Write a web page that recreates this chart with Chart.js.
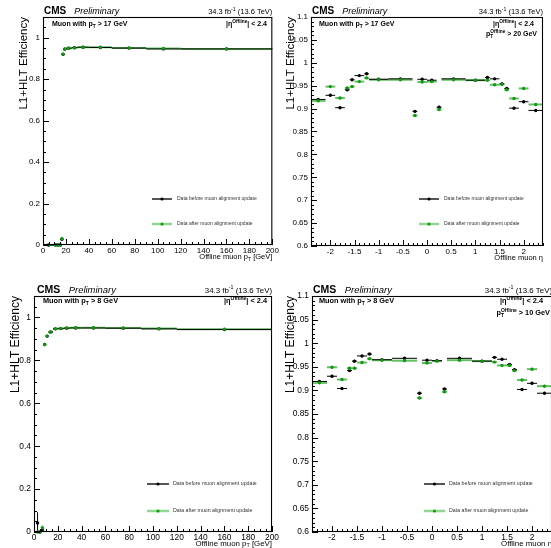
<!DOCTYPE html>
<html>
<head>
<meta charset="utf-8">
<script src="https://cdn.jsdelivr.net/npm/chart.js@4/dist/chart.umd.min.js"></script>
<style>
  html, body { margin: 0; padding: 0; background: #fff; }
  body { position: relative; width: 551px; height: 548px; overflow: hidden; }
  canvas { position: absolute; }
</style>
</head>
<body>
<canvas id="tl"></canvas>
<canvas id="tr"></canvas>
<canvas id="bl"></canvas>
<canvas id="br"></canvas>
<script>
'use strict';

var FONT = '"Liberation Sans", Arial, Helvetica, sans-serif';

// ---- data: offline pT, muons with pT > 17 GeV (top left)
var ptEdges17 = [0, 10, 12, 14, 16, 17, 18, 20, 25, 30, 40, 60, 90, 120, 200];
var effBefore17 = [0, 0, 0, 0, 0.028, 0.920, 0.945, 0.949, 0.952, 0.954, 0.953, 0.950, 0.946, 0.946];
var effAfter17  = [0, 0, 0, 0, 0.030, 0.921, 0.946, 0.949, 0.952, 0.954, 0.954, 0.951, 0.948, 0.946];
var errBefore17 = [0, 0, 0, 0, 0.008, 0.004, 0.002, 0.002, 0.002, 0.001, 0.001, 0.002, 0.003, 0.003];
var errAfter17  = [0, 0, 0, 0, 0.008, 0.004, 0.002, 0.002, 0.002, 0.001, 0.001, 0.002, 0.003, 0.003];

// ---- data: offline pT, muons with pT > 8 GeV (bottom left)
var ptEdges8 = [2, 4, 6, 8, 10, 12, 16, 20, 25, 30, 40, 60, 90, 120, 200];
var effBefore8 = [0.042, 0, 0.010, 0.874, 0.913, 0.932, 0.947, 0.948, 0.950, 0.951, 0.951, 0.950, 0.947, 0.944];
var effAfter8  = [0, 0, 0.020, 0.874, 0.913, 0.932, 0.947, 0.949, 0.951, 0.952, 0.952, 0.951, 0.948, 0.945];
var errBefore8 = [0.05, 0, 0.010, 0.004, 0.003, 0.002, 0.002, 0.002, 0.002, 0.001, 0.001, 0.002, 0.003, 0.003];
var errAfter8  = [0, 0, 0.010, 0.004, 0.003, 0.002, 0.002, 0.002, 0.002, 0.001, 0.001, 0.002, 0.003, 0.003];

// ---- data: offline eta (both right panels share the binning)
var etaEdges = [-2.4, -2.1, -1.9, -1.7, -1.6, -1.5, -1.3, -1.2, -0.8, -0.3, -0.2, 0,
                0.2, 0.3, 0.8, 1.2, 1.3, 1.5, 1.6, 1.7, 1.9, 2.1, 2.4];
var effBefore20 = [0.920, 0.929, 0.902, 0.941, 0.963, 0.972, 0.976, 0.964, 0.965, 0.894, 0.964,
                   0.962, 0.903, 0.965, 0.962, 0.968, 0.965, 0.954, 0.944, 0.901, 0.915, 0.896];
var effAfter20  = [0.917, 0.948, 0.923, 0.945, 0.948, 0.959, 0.967, 0.963, 0.963, 0.885, 0.958,
                   0.959, 0.898, 0.963, 0.962, 0.962, 0.952, 0.953, 0.941, 0.922, 0.944, 0.909];
var effBefore10 = [0.919, 0.930, 0.904, 0.942, 0.962, 0.973, 0.977, 0.965, 0.968, 0.894, 0.964,
                   0.963, 0.903, 0.968, 0.962, 0.970, 0.966, 0.955, 0.944, 0.902, 0.915, 0.894];
var effAfter10  = [0.916, 0.949, 0.923, 0.947, 0.947, 0.959, 0.967, 0.964, 0.963, 0.884, 0.958,
                   0.962, 0.897, 0.964, 0.962, 0.960, 0.953, 0.953, 0.942, 0.922, 0.945, 0.909];
var etaErr = [0.003, 0.003, 0.003, 0.003, 0.003, 0.002, 0.002, 0.001, 0.001, 0.003, 0.002,
              0.002, 0.003, 0.001, 0.001, 0.002, 0.002, 0.003, 0.003, 0.003, 0.003, 0.003];

// ---- text pieces (m: sub / sup / subsup)
function R(t, m, u) { return { t: t, m: m || '', u: u }; }
var lumiText = [R('34.3 fb'), R('-1', 'sup'), R(' (13.6 TeV)')];
var etaCut = [R('|\u03b7'), R('Offline', 'sup'), R('| < 2.4')];
var ptTitle = [R('Offline muon p'), R('T', 'sub'), R(' [GeV]')];
var etaTitle = [R('Offline muon \u03b7')];
var legendText = ['Data before muon alignment update', 'Data after muon alignment update'];

var panels = [
  {
    id: 'tl', left: 0, top: 0, w: 280, h: 275, s: 1,
    area: { l: 43, r: 277, t: 17, b: 245 },
    xr: { min: 0, max: 200, step: 20, minor: 5 }, yr: { min: 0, max: 1.1, step: 0.2, minor: 0.05 },
    edges: ptEdges17, before: effBefore17, after: effAfter17, errB: errBefore17, errA: errAfter17,
    cut: [R('Muon with p'), R('T', 'sub'), R(' > 17 GeV')], cutX: 52, cutY: 26, etaR: 267,
    extra: null, cms: { x: 44, y: 14 }, yTitleX: 27, xTitle: ptTitle, xTitleY: 259,
    leg: { x1: 152, x2: 172, tx: 177, y1: 199, y2: 224 }
  },
  {
    id: 'tr', left: 276, top: 0, w: 280, h: 275, s: 1,
    area: { l: 35, r: 267, t: 17, b: 246 },
    xr: { min: -2.4, max: 2.4, step: 0.5, minor: 0.1 }, yr: { min: 0.6, max: 1.1, step: 0.05, minor: 0.01 },
    edges: etaEdges, before: effBefore20, after: effAfter20, errB: etaErr, errA: etaErr,
    cut: [R('Muon with p'), R('T', 'sub'), R(' > 17 GeV')], cutX: 43, cutY: 26, etaR: 258,
    extra: { parts: [R('p'), R('T', 'subsup', 'Offline'), R(' > 20 GeV')], r: 261, y: 36 },
    cms: { x: 36, y: 14 }, yTitleX: 18, xTitle: etaTitle, xTitleY: 260,
    leg: { x1: 143, x2: 163, tx: 168, y1: 199, y2: 224 }
  },
  {
    id: 'bl', left: 0, top: 275, w: 280, h: 273, s: 1.05,
    area: { l: 34, r: 276, t: 21, b: 257 },
    xr: { min: 0, max: 200, step: 20, minor: 5 }, yr: { min: 0, max: 1.1, step: 0.2, minor: 0.05 },
    edges: ptEdges8, before: effBefore8, after: effAfter8, errB: errBefore8, errA: errAfter8,
    cut: [R('Muon with p'), R('T', 'sub'), R(' > 8 GeV')], cutX: 43, cutY: 28, etaR: 267,
    extra: null, cms: { x: 37, y: 17.5 }, yTitleX: 19, xTitle: ptTitle, xTitleY: 270.5,
    leg: { x1: 147, x2: 169, tx: 173, y1: 209, y2: 236 }
  },
  {
    id: 'br', left: 276, top: 275, w: 280, h: 273, s: 1.05,
    area: { l: 36, r: 276, t: 21, b: 257 },
    xr: { min: -2.4, max: 2.4, step: 0.5, minor: 0.1 }, yr: { min: 0.6, max: 1.1, step: 0.05, minor: 0.01 },
    edges: etaEdges, before: effBefore10, after: effAfter10, errB: etaErr, errA: etaErr,
    cut: [R('Muon with p'), R('T', 'sub'), R(' > 8 GeV')], cutX: 43, cutY: 28, etaR: 267,
    extra: { parts: [R('p'), R('T', 'subsup', 'Offline'), R(' > 10 GeV')], r: 274, y: 40 },
    cms: { x: 37, y: 17.5 }, yTitleX: 18, xTitle: etaTitle, xTitleY: 270.5,
    leg: { x1: 148, x2: 169, tx: 173, y1: 209, y2: 236 }
  }
];

var BLACK = '#000000';
var GREEN = '#139a13';
var GREEN_BAR = 'rgba(70, 180, 70, 0.85)';

function onStep(v, step) {
  var k = v / step;
  return Math.abs(k - Math.round(k)) < 1e-6;
}

function fmt(v) { return String(Math.round(v * 1000) / 1000); }

// rich text with sub / superscripts
function drawRich(ctx, parts, x, y, size, style, align) {
  var small = size * 0.68;
  function font(sz) { return style + ' ' + sz + 'px ' + FONT; }
  var widths = parts.map(function (p) {
    if (p.m === 'subsup') {
      ctx.font = font(small);
      return Math.max(ctx.measureText(p.t).width, ctx.measureText(p.u).width);
    }
    ctx.font = font(p.m ? small : size);
    return ctx.measureText(p.t).width;
  });
  var total = widths.reduce(function (a, b) { return a + b; }, 0);
  var cx = align === 'right' ? x - total : x;
  ctx.textAlign = 'left';
  ctx.textBaseline = 'alphabetic';
  parts.forEach(function (p, i) {
    if (!p.m) {
      ctx.font = font(size);
      ctx.fillText(p.t, cx, y);
    } else {
      ctx.font = font(small);
      if (p.m === 'sub') ctx.fillText(p.t, cx, y + size * 0.25);
      if (p.m === 'sup') ctx.fillText(p.t, cx, y - size * 0.42);
      if (p.m === 'subsup') {
        ctx.fillText(p.t, cx, y + size * 0.3);
        ctx.fillText(p.u, cx, y - size * 0.45);
      }
    }
    cx += widths[i];
  });
  return total;
}

// horizontal bin bars + vertical errors, frame, inward ticks, texts, legend
var rootStyle = {
  id: 'rootStyle',
  beforeDatasetsDraw: function (chart) {
    var ctx = chart.ctx, xs = chart.scales.x, ys = chart.scales.y;
    ctx.save();
    chart.data.datasets.slice().reverse().forEach(function (ds) {
      ctx.strokeStyle = ds.barColor;
      ctx.lineWidth = ds.barWidth;
      ds.data.forEach(function (pt, i) {
        var y = ys.getPixelForValue(pt.y);
        ctx.beginPath();
        ctx.moveTo(xs.getPixelForValue(ds.lo[i]), y);
        ctx.lineTo(xs.getPixelForValue(ds.hi[i]), y);
        ctx.stroke();
        if (ds.err[i] > 0) {
          var x = xs.getPixelForValue(pt.x);
          ctx.lineWidth = 1;
          ctx.beginPath();
          ctx.moveTo(x, ys.getPixelForValue(Math.max(ys.min, pt.y - ds.err[i])));
          ctx.lineTo(x, ys.getPixelForValue(pt.y + ds.err[i]));
          ctx.stroke();
          ctx.lineWidth = ds.barWidth;
        }
      });
    });
    ctx.restore();
  },
  afterDraw: function (chart, args, o) {
    var p = o.panel, ctx = chart.ctx, a = chart.chartArea;
    var xs = chart.scales.x, ys = chart.scales.y, s = p.s;
    ctx.save();
    ctx.strokeStyle = '#000';
    ctx.fillStyle = '#000';
    ctx.lineWidth = 1.1;
    ctx.strokeRect(a.left + 0.5, a.top + 0.5, a.right - a.left - 1, a.bottom - a.top - 1);

    // ticks pointing into the frame
    ctx.lineWidth = 1;
    var v, px, len;
    for (v = Math.ceil(p.xr.min / p.xr.minor - 1e-6) * p.xr.minor; v <= p.xr.max + 1e-9; v += p.xr.minor) {
      px = Math.round(xs.getPixelForValue(v)) + 0.5;
      len = onStep(v, p.xr.step) ? 6 : 3;
      ctx.beginPath(); ctx.moveTo(px, a.bottom); ctx.lineTo(px, a.bottom - len); ctx.stroke();
    }
    for (v = Math.ceil(p.yr.min / p.yr.minor - 1e-6) * p.yr.minor; v <= p.yr.max + 1e-9; v += p.yr.minor) {
      px = Math.round(ys.getPixelForValue(v)) + 0.5;
      len = onStep(v, p.yr.step) ? 6 : 3;
      ctx.beginPath(); ctx.moveTo(a.left, px); ctx.lineTo(a.left + len, px); ctx.stroke();
    }

    // header
    ctx.font = 'bold ' + 10 * s + 'px ' + FONT;
    ctx.textAlign = 'left';
    ctx.fillText('CMS', p.cms.x, p.cms.y);
    var w = ctx.measureText('CMS').width;
    ctx.font = 'italic ' + 9 * s + 'px ' + FONT;
    ctx.fillText('Preliminary', p.cms.x + w + 8 * s, p.cms.y);
    drawRich(ctx, lumiText, a.right, p.cms.y, 7.5 * s, '', 'right');

    // selection labels
    drawRich(ctx, p.cut, p.cutX, p.cutY, 7 * s, 'bold', 'left');
    drawRich(ctx, etaCut, p.etaR, p.cutY, 7 * s, 'bold', 'right');
    if (p.extra) drawRich(ctx, p.extra.parts, p.extra.r, p.extra.y, 7 * s, 'bold', 'right');

    // axis titles
    drawRich(ctx, p.xTitle, a.right, p.xTitleY, 7.5 * s, '', 'right');
    ctx.save();
    ctx.translate(p.yTitleX, a.top);
    ctx.rotate(-Math.PI / 2);
    drawRich(ctx, [R('L1+HLT Efficiency')], 0, 0, 11.5 * s, '', 'right');
    ctx.restore();

    // legend
    var L = p.leg;
    [[L.y1, '#555555', 2, BLACK, legendText[0]], [L.y2, '#8fd68f', 2.5, GREEN, legendText[1]]].forEach(function (e) {
      ctx.strokeStyle = e[1];
      ctx.lineWidth = e[2];
      ctx.beginPath(); ctx.moveTo(L.x1, e[0]); ctx.lineTo(L.x2, e[0]); ctx.stroke();
      ctx.fillStyle = e[3];
      ctx.beginPath(); ctx.arc((L.x1 + L.x2) / 2, e[0], 1.6, 0, Math.PI * 2); ctx.fill();
      ctx.fillStyle = '#333';
      ctx.font = 5 * s + 'px ' + FONT;
      ctx.textBaseline = 'middle';
      ctx.fillText(e[4], L.tx, e[0]);
      ctx.textBaseline = 'alphabetic';
    });
    ctx.restore();
  }
};

function makeSeries(label, p, eff, err, color, barColor, barWidth, order) {
  var lo = p.edges.slice(0, -1), hi = p.edges.slice(1);
  return {
    label: label,
    order: order,
    data: eff.map(function (v, i) { return { x: (lo[i] + hi[i]) / 2, y: v }; }),
    lo: lo, hi: hi, err: err,
    barColor: barColor, barWidth: barWidth,
    backgroundColor: color, borderColor: color,
    pointRadius: 1.7, pointBorderWidth: 0, showLine: false, clip: 6
  };
}

function axis(p, r, isX) {
  return {
    type: 'linear', min: r.min, max: r.max,
    afterFit: function (sc) {
      if (isX) sc.height = p.h - p.area.b; else sc.width = p.area.l;
    },
    // labelled ticks only on whole multiples of the step
    afterBuildTicks: function (sc) {
      var list = [];
      for (var k = Math.ceil(r.min / r.step - 1e-6); k * r.step <= r.max + 1e-9; k++) {
        list.push({ value: Math.round(k * r.step * 1000) / 1000 });
      }
      sc.ticks = list;
    },
    ticks: {
      stepSize: r.step, autoSkip: false, maxRotation: 0, padding: isX ? 1 : 3,
      color: '#000', font: { family: FONT, size: 8 * p.s },
      callback: function (v) { return fmt(v); }
    },
    grid: { display: false, drawTicks: false },
    border: { display: false }
  };
}

panels.forEach(function (p) {
  var cv = document.getElementById(p.id);
  cv.width = p.w;
  cv.height = p.h;
  cv.style.left = p.left + 'px';
  cv.style.top = p.top + 'px';
  new Chart(cv.getContext('2d'), {
    type: 'scatter',
    data: {
      datasets: [
        makeSeries(legendText[0], p, p.before, p.errB, BLACK, BLACK, 1, 2),
        makeSeries(legendText[1], p, p.after, p.errA, GREEN, GREEN_BAR, 2, 1)
      ]
    },
    options: {
      responsive: false,
      animation: false,
      layout: { autoPadding: false, padding: { left: 0, top: p.area.t, right: p.w - p.area.r, bottom: 0 } },
      scales: { x: axis(p, p.xr, true), y: axis(p, p.yr, false) },
      plugins: { legend: { display: false }, tooltip: { enabled: false }, rootStyle: { panel: p } }
    },
    plugins: [rootStyle]
  });
});
</script>
</body>
</html>
